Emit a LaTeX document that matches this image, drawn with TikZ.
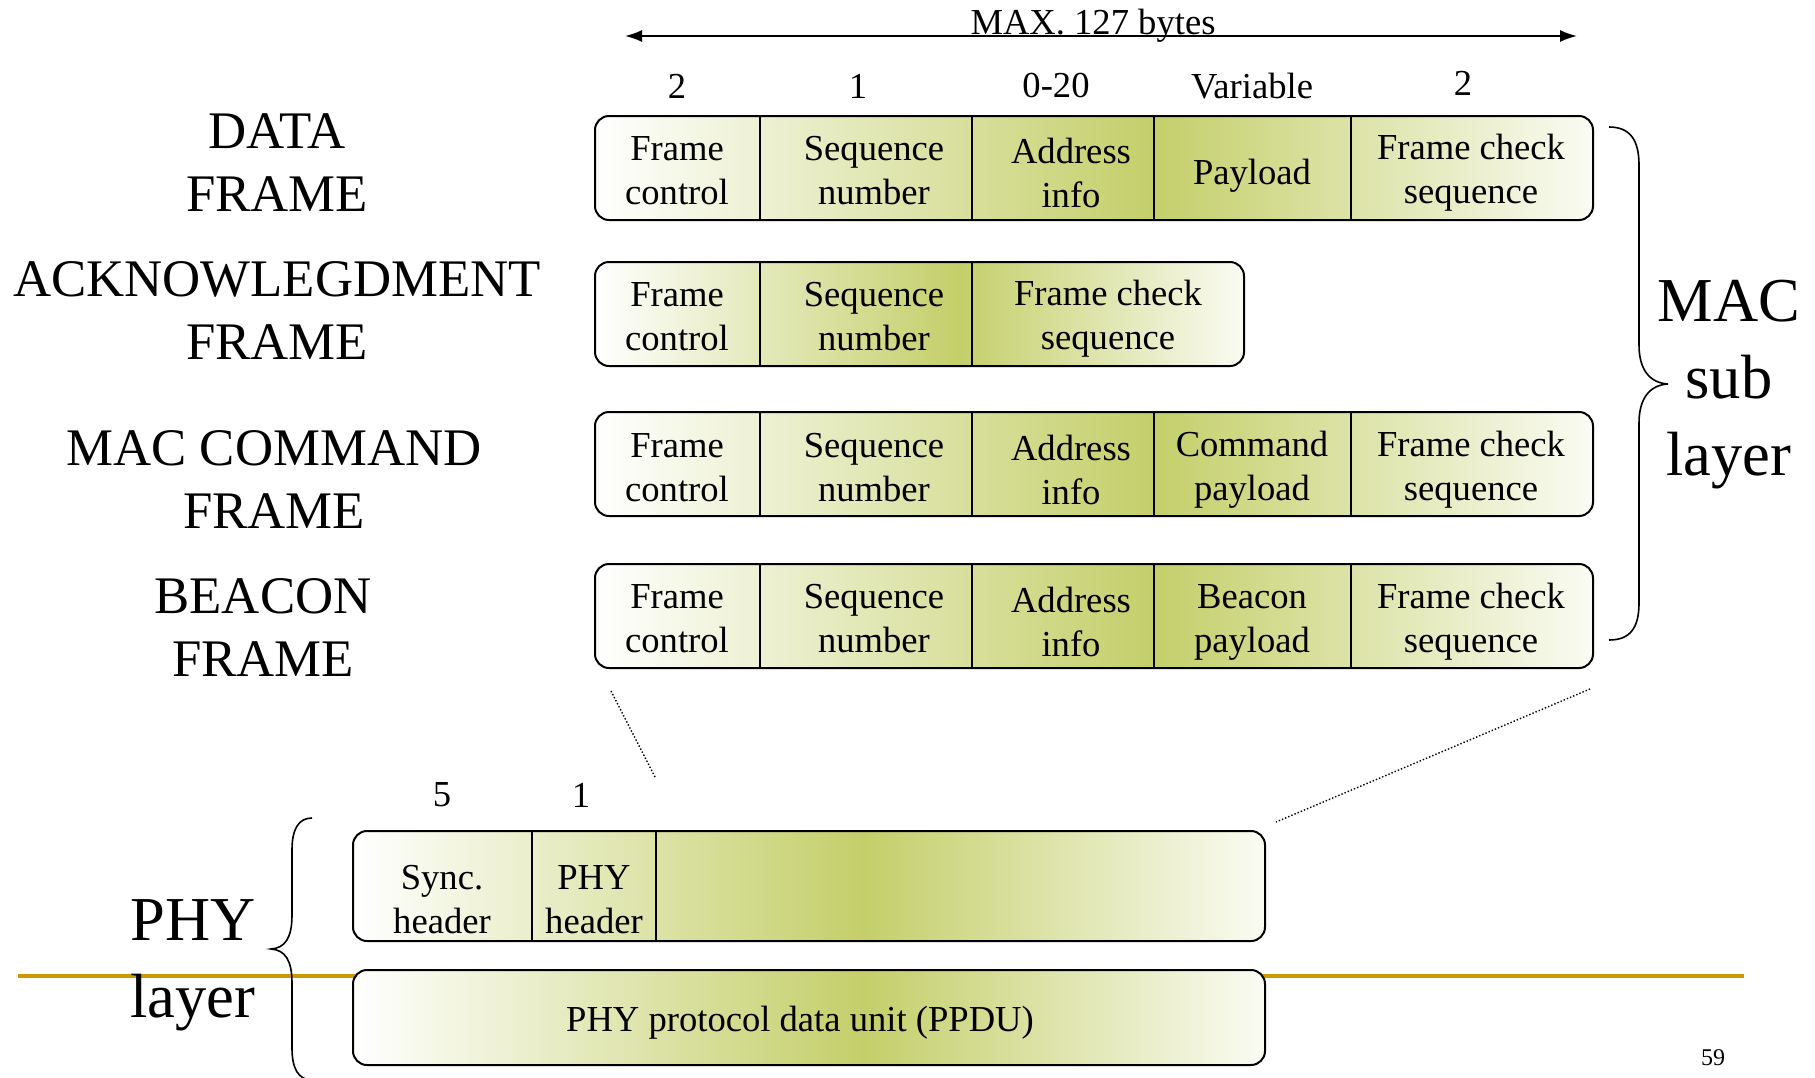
\documentclass[tikz,border=0pt]{standalone}
\usepackage{fontspec}
\setmainfont{Liberation Serif}
\usetikzlibrary{arrows.meta}

\definecolor{fieldgreen}{RGB}{196,207,106}
\colorlet{fieldpale}{white!92!fieldgreen}
\definecolor{rulegold}{RGB}{204,153,0}

% white -> green -> white across each frame bar
\pgfdeclarehorizontalshading{fieldshade}{100bp}{%
  color(0bp)=(white); color(25bp)=(white); color(53bp)=(fieldgreen);
  color(75bp)=(fieldpale); color(100bp)=(fieldpale)}

\newcommand\fieldfont{\fontsize{36.6pt}{44pt}\selectfont}
\newcommand\framefont{\fontsize{52.8pt}{63pt}\selectfont}
\newcommand\layerfont{\fontsize{62.5pt}{77pt}\selectfont}

\tikzset{
  bar/.style={draw=black, line width=2pt, rounded corners=14pt,
    shade, shading=fieldshade, inner sep=0pt},
  divider/.style={draw=black, line width=1.5pt},
  field/.style={font=\fieldfont, align=center, inner sep=0pt},
  bytes/.style={font=\fieldfont, inner sep=0pt},
  framelabel/.style={font=\framefont, align=center, inner sep=0pt},
  layerlabel/.style={font=\layerfont, align=center, inner sep=0pt},
  brace/.style={draw=black, line width=1.6pt},
  zoomline/.style={draw=black, line width=1.4pt, dotted},
}

\begin{document}
\begin{tikzpicture}[x=1pt, y=-1pt]
\useasboundingbox (0,0) rectangle (1815,1077);
\fill[white] (0,0) rectangle (1815,1077);

% slide rule behind the PHY boxes
\draw[rulegold, line width=3.5pt] (18,976) -- (1744,976);

% overall length
\coordinate (lenL) at (625,36);
\coordinate (lenR) at (1577,36);
\draw[line width=1.8pt, {Latex[length=17pt,width=12pt]}-{Latex[length=17pt,width=12pt]}] (lenL) -- (lenR);
\node[bytes, anchor=base] (maxlen) at (1093,34) {MAX. 127 bytes};

% field sizes
\node[bytes] (b1) at (677,86) {2};
\node[bytes] (b2) at (858,86) {1};
\node[bytes] (b3) at (1056,86) {0-20};
\node[bytes] (b4) at (1252,86) {Variable};
\node[bytes] (b5) at (1463,83) {2};

% frame names
\node[framelabel] (lData) at (277,163) {DATA\\FRAME};
\node[framelabel] (lAck) at (277,311) {ACKNOWLEGDMENT\\FRAME};
\node[framelabel] (lCmd) at (274,480) {MAC COMMAND\\FRAME};
\node[framelabel] (lBeacon) at (263,628) {BEACON\\FRAME};

% data frame
\node[bar, minimum width=998pt, minimum height=104pt] (dataBar) at (1094,168) {};
\draw[divider] (760,116) -- (760,220);
\draw[divider] (972,116) -- (972,220);
\draw[divider] (1154,116) -- (1154,220);
\draw[divider] (1351,116) -- (1351,220);
\node[field] (dFC) at (677,171) {Frame\\control};
\node[field] (dSN) at (874,171) {Sequence\\number};
\node[field] (dAI) at (1071,173) {Address\\info};
\node[field] (dPL) at (1252,176) {Payload};
\node[field] (dFCS) at (1471,173) {Frame check\\sequence};

% acknowledgment frame
\node[bar, minimum width=649pt, minimum height=104pt] (ackBar) at (919.5,314) {};
\draw[divider] (760,262) -- (760,366);
\draw[divider] (972,262) -- (972,366);
\node[field] (aFC) at (677,317) {Frame\\control};
\node[field] (aSN) at (874,317) {Sequence\\number};
\node[field] (aFCS) at (1108,319) {Frame check\\sequence};

% MAC command frame
\node[bar, minimum width=998pt, minimum height=104pt] (cmdBar) at (1094,464) {};
\draw[divider] (760,412) -- (760,516);
\draw[divider] (972,412) -- (972,516);
\draw[divider] (1154,412) -- (1154,516);
\draw[divider] (1351,412) -- (1351,516);
\node[field] (cFC) at (677,468) {Frame\\control};
\node[field] (cSN) at (874,468) {Sequence\\number};
\node[field] (cAI) at (1071,470) {Address\\info};
\node[field] (cPL) at (1252,470) {Command\\payload};
\node[field] (cFCS) at (1471,470) {Frame check\\sequence};

% beacon frame
\node[bar, minimum width=998pt, minimum height=104pt] (beaconBar) at (1094,616) {};
\draw[divider] (760,564) -- (760,668);
\draw[divider] (972,564) -- (972,668);
\draw[divider] (1154,564) -- (1154,668);
\draw[divider] (1351,564) -- (1351,668);
\node[field] (eFC) at (677,619) {Frame\\control};
\node[field] (eSN) at (874,619) {Sequence\\number};
\node[field] (eAI) at (1071,622) {Address\\info};
\node[field] (ePL) at (1252,622) {Beacon\\payload};
\node[field] (eFCS) at (1471,622) {Frame check\\sequence};

% MAC sub layer brace
\draw[brace] (1609,127) .. controls (1630,127) and (1639,140) .. (1639,165)
  -- (1639,345) .. controls (1639,370) and (1650,383) .. (1668,384)
  .. controls (1650,385) and (1639,398) .. (1639,423)
  -- (1639,603) .. controls (1639,628) and (1630,640) .. (1609,640);
\node[layerlabel] (lMac) at (1729,385) {MAC\\sub\\layer};

% PHY layer
\node[bytes] (p1) at (442,795) {5};
\node[bytes] (p2) at (581,795) {1};
\node[bar, minimum width=912pt, minimum height=110pt] (phyBar) at (809,886) {};
\draw[divider] (532,831) -- (532,941);
\draw[divider] (656,831) -- (656,941);
\node[field] (pSync) at (442,900) {Sync.\\header};
\node[field] (pHdr) at (594,900) {PHY\\header};

\node[bar, minimum width=912pt, minimum height=95pt] (ppduBar) at (809,1017.5) {};
\node[field] (ppdu) at (800,1023) {PHY protocol data unit (PPDU)};

\draw[brace] (312,818) .. controls (298,818) and (292,830) .. (292,850)
  -- (292,915) .. controls (292,938) and (285,948) .. (271,949)
  .. controls (285,950) and (292,960) .. (292,983)
  -- (292,1048) .. controls (292,1068) and (298,1080) .. (312,1080);
\node[layerlabel] (lPhy) at (193,965) {PHY\\layer};

% expansion of the MAC frame into the PHY payload
\coordinate (zoomA) at (611,691);
\coordinate (zoomB) at (655,777);
\coordinate (zoomC) at (1590,689);
\coordinate (zoomD) at (1276,822);
\draw[zoomline] (zoomA) -- (zoomB);
\draw[zoomline] (zoomC) -- (zoomD);

% page number
\node[font=\fontsize{24pt}{28pt}\selectfont, inner sep=0pt] (pageno) at (1713,1058) {59};
\end{tikzpicture}
\end{document}
